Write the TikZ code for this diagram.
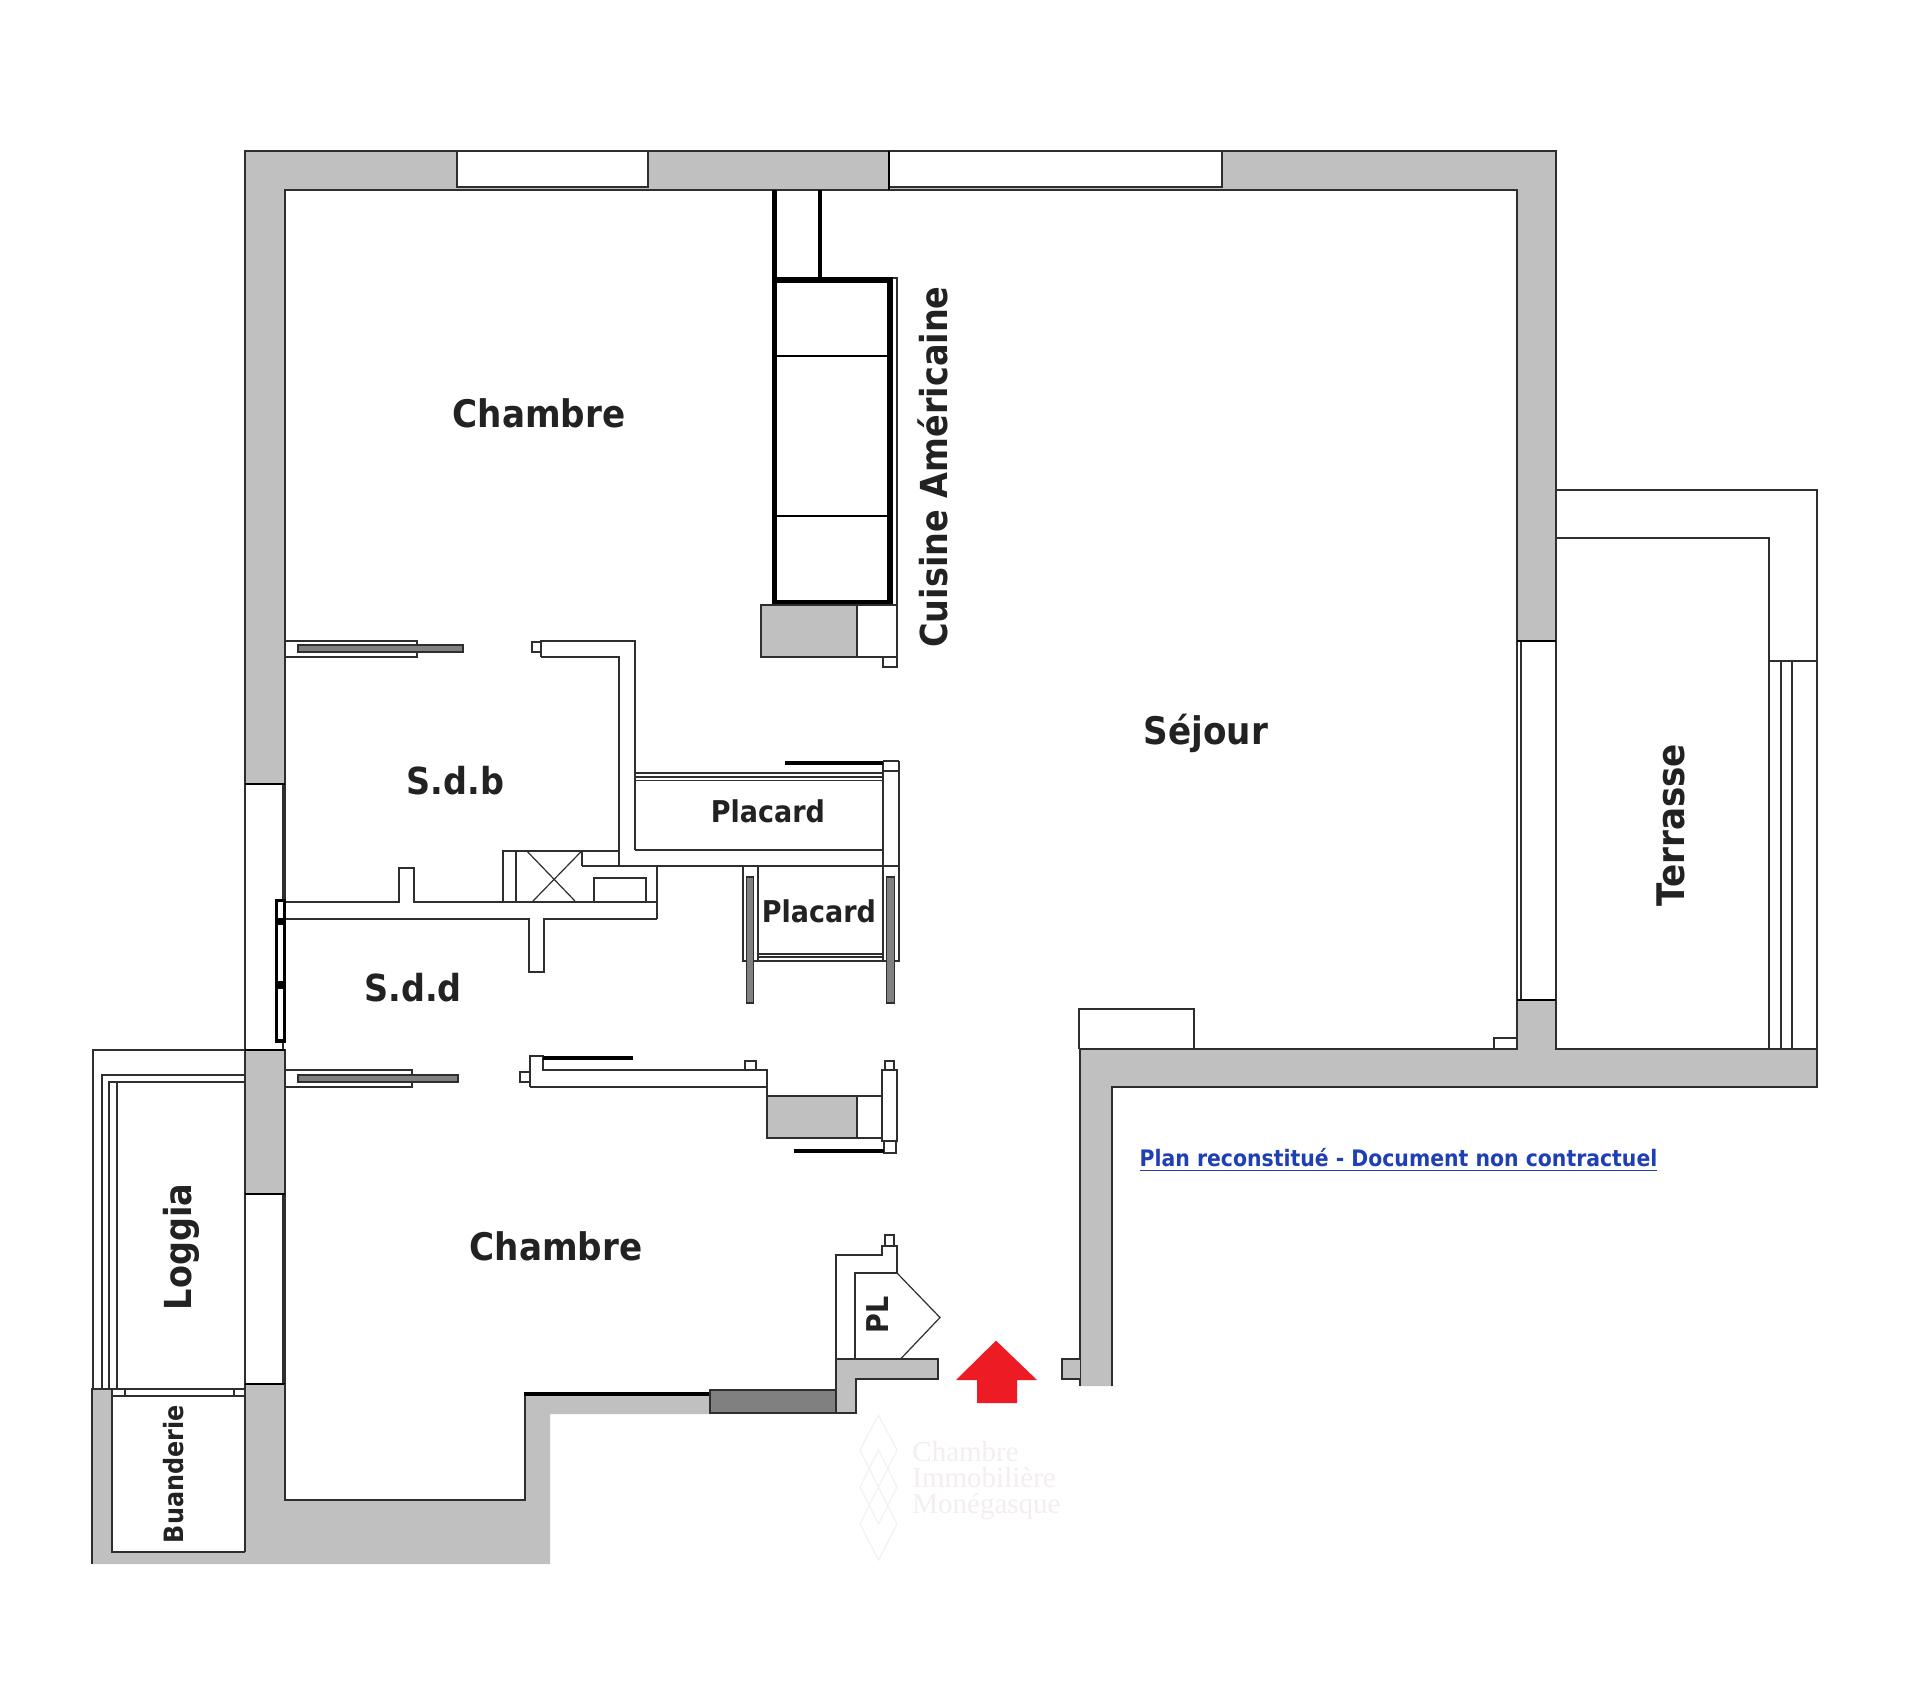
\documentclass[tikz,border=0pt]{standalone}
\usepackage{fontspec}
\setmainfont{DejaVu Sans Condensed}
\newfontfamily\wmfont{Liberation Serif}
\definecolor{wallgray}{HTML}{C0C0C0}
\definecolor{darkwall}{HTML}{808080}
\definecolor{linecol}{HTML}{2E2E2E}
\definecolor{labelcol}{HTML}{222222}
\definecolor{arrowred}{HTML}{ED1C24}
\definecolor{planblue}{HTML}{1F3FB5}
\definecolor{wmcol}{HTML}{F4EEEE}
\tikzset{
  ln/.style={draw=linecol,line width=1pt},
  thn/.style={draw=linecol,line width=0.6pt},
  wall/.style={fill=wallgray,draw=linecol,line width=1pt},
  whitebox/.style={fill=white,draw=linecol,line width=1pt},
  slider/.style={fill=darkwall,draw=linecol,line width=0.6pt},
  frameb/.style={fill=white,draw=black,line width=1.8pt},
  jamb/.style={draw=black,line width=1.4pt},
  room/.style={font=\bfseries\fontsize{19}{20}\selectfont,text=labelcol,inner sep=0pt},
  roomlow/.style={font=\bfseries\fontsize{18.6}{20}\selectfont,text=labelcol,inner sep=0pt},
  roomsm/.style={font=\bfseries\fontsize{15}{16}\selectfont,text=labelcol,inner sep=0pt},
  wm/.style={font=\wmfont\fontsize{14.5}{15}\selectfont,text=wmcol,inner sep=0pt,anchor=base west},
}
\begin{document}
\begin{tikzpicture}[x=0.5pt,y=-0.5pt]
\useasboundingbox (0,0) rectangle (1920,1683);
\fill[white] (0,0) rectangle (1920,1683);
% outer wall, top and upper left
\draw[wall] (245,151) -- (1556,151) -- (1556,641) -- (1517,641) -- (1517,190) -- (285,190) -- (285,784) -- (245,784) -- cycle;
% top windows
\draw[whitebox] (457,151) rectangle (648,187);
\draw[thn] (457,189.5) -- (648,189.5);
\draw[whitebox] (889,151) rectangle (1222,187);
\draw[thn] (889,189.5) -- (1222,189.5);
\draw[jamb] (889,151) -- (889,190);
% left windows and piers
\draw[whitebox] (245,784) rectangle (282.5,1050);
\draw[thn] (285,784) -- (285,900);
\draw[jamb] (245,784) -- (285,784);
\draw[wall] (245,1050) rectangle (285,1194);
\draw[jamb] (245,1050) -- (285,1050);
\draw[whitebox] (245,1194) rectangle (282.5,1384);
\draw[thn] (285,1194) -- (285,1384);
\draw[jamb] (245,1194) -- (285,1194);
% lower left wall mass
\fill[wallgray] (245,1384) -- (285,1384) -- (285,1500) -- (525,1500) -- (525,1396) -- (710,1396) -- (710,1414) -- (550,1414) -- (550,1564) -- (92,1564) -- (92,1388.5) -- (112,1388.5) -- (112,1552) -- (245,1552) -- cycle;
\draw[ln] (245,1552) -- (112,1552) -- (112,1388.5) -- (92,1388.5) -- (92,1564);
\draw[ln] (245,1552) -- (245,1384);
\draw[jamb] (245,1384) -- (285,1384);
\draw[ln] (285,1384) -- (285,1500) -- (525,1500) -- (525,1396);
\fill[black] (524,1392) rectangle (710,1396);
% loggia
\draw[ln] (245,1050) -- (93,1050) -- (93,1388.5);
\draw[ln] (245,1074.5) -- (102,1074.5) -- (102,1388.5);
\draw[ln] (245,1082) -- (109,1082) -- (109,1388.5);
\draw[ln] (117,1082) -- (117,1388.5);
% buanderie window
\draw[whitebox] (112,1388.5) rectangle (245,1396);
\draw[thn] (125,1388.5) -- (125,1396) (234,1388.5) -- (234,1396);
% entry corner of lower wall
\draw[wall,fill=darkwall] (710,1389.5) rectangle (835.5,1413);
\draw[wall] (835.5,1358.5) -- (937.5,1358.5) -- (937.5,1378.5) -- (856,1378.5) -- (856,1413) -- (835.5,1413) -- cycle;
% right wall band
\fill[wallgray] (1079.6,1386) -- (1079.6,1049) -- (1517,1049) -- (1517,1000) -- (1556,1000) -- (1556,1049) -- (1817,1049) -- (1817,1087) -- (1112,1087) -- (1112,1386) -- cycle;
\draw[ln] (1079.6,1386) -- (1079.6,1049) -- (1517,1049) -- (1517,1000) (1556,1000) -- (1556,1049) -- (1817,1049) -- (1817,1087) -- (1112,1087) -- (1112,1386);
\draw[ln,fill=wallgray] (1079.6,1358.5) -- (1061.6,1358.5) -- (1061.6,1378.5) -- (1079.6,1378.5);
\draw[ln] (1079,1049) -- (1079,1009) -- (1194,1009) -- (1194,1049);
\draw[ln] (1494,1049) -- (1494,1037.6) -- (1517,1037.6);
% right window
\draw[whitebox] (1520.7,641) rectangle (1556,1000);
\draw[thn] (1517,641) -- (1517,1000);
\draw[jamb] (1517,641) -- (1556,641) (1517,1000) -- (1556,1000);
% terrace
\draw[ln] (1556,490) -- (1817,490) -- (1817,1049);
\draw[ln] (1556,537.5) -- (1769,537.5) -- (1769,1049);
\draw[ln] (1769,661) -- (1817,661);
\draw[ln] (1780.7,661) -- (1780.7,1049) (1792,661) -- (1792,1049);
% kitchen
\draw[draw=black,line width=2.2pt] (774.5,190) -- (774.5,280) (820,190) -- (820,280);
\draw[whitebox] (890,278) rectangle (897,605);
\draw[draw=black,line width=2.6pt,fill=white] (774.5,280) rectangle (890,602.5);
\draw[draw=black,line width=1.1pt] (774.5,356) -- (890,356) (774.5,516) -- (890,516);
\draw[wall] (761,605) rectangle (857,657);
\draw[whitebox] (857,605) rectangle (897,657);
\draw[whitebox] (883,657) rectangle (897,667);
% upper partition
\draw[ln] (285,641) -- (417,641) -- (417,657) -- (285,657);
\draw[slider] (298,645) rectangle (463,652);
\draw[whitebox] (532,642) rectangle (541,652);
\draw[ln] (541,657) -- (541,641) -- (635,641) -- (635,850) (541,657) -- (619,657) -- (619,866);
% placard 1
\draw[ln] (635,773) -- (883,773) (635,850) -- (883,850);
\draw[thn] (635,777) -- (883,777) (635,780.5) -- (883,780.5);
\draw[ln] (883,761) -- (883,866) (898.5,761) -- (898.5,866) (883,761) -- (898.5,761) (883,771) -- (898.5,771);
\fill[black] (785,761) rectangle (883,765);
\draw[ln] (582,866) -- (898.5,866);
% service block
\draw[ln] (619,851) -- (503,851) -- (503,902) (516,851) -- (516,902);
\draw[ln] (582,851) -- (582,866) (657,866) -- (657,919);
\draw[thn] (527.5,851.7) -- (575,901) (581,851.7) -- (533,901);
\draw[ln] (594,902) -- (594,878) -- (645.5,878) -- (645.5,902);
% horizontal partition
\draw[ln] (285,902) -- (398.5,902) -- (398.5,868) -- (414,868) -- (414,902) -- (657,902);
\draw[ln] (285,919) -- (529,919) -- (529,972) -- (544,972) -- (544,919) -- (657,919);
% left window frame
\draw[frameb] (276.5,900.5) rectangle (284.5,920);
\draw[frameb] (276.5,923) rectangle (284.5,983);
\draw[frameb] (276.5,987) rectangle (284.5,1041);
% placard 2
\draw[ln] (743,866) -- (743,961) -- (898.5,961) -- (898.5,866);
\draw[ln] (758,866) -- (758,961) (883,866) -- (883,961);
\draw[thn] (758,954) -- (883,954) (758,957) -- (883,957);
\draw[slider] (746.5,877) rectangle (753.5,1003);
\draw[slider] (886.5,877) rectangle (894.5,1003);
% lower partition
\draw[ln] (285,1070) -- (412,1070) -- (412,1086.5) -- (285,1086.5);
\draw[slider] (298,1075) rectangle (458,1082);
\draw[whitebox] (520.4,1072) rectangle (530,1082);
\draw[whitebox] (745,1060.7) rectangle (756,1070);
\draw[ln] (530,1086.5) -- (530,1056) -- (543,1056) -- (543,1070) -- (767,1070) -- (767,1096);
\draw[ln] (530,1086.5) -- (767,1086.5);
\fill[black] (543,1055.5) rectangle (632.6,1059.6);
\draw[wall] (767,1096) rectangle (857,1138);
\draw[whitebox] (857,1096) rectangle (881.6,1138);
\draw[whitebox] (884.5,1060.7) rectangle (894,1070);
\draw[whitebox] (881.6,1070) rectangle (897,1141);
\draw[whitebox] (883.7,1141) rectangle (896,1152.6);
\fill[black] (793.5,1149) rectangle (883.7,1152.6);
% PL cupboard
\draw[whitebox] (884.5,1235) rectangle (894,1245.6);
\draw[ln] (835.5,1358.5) -- (835.5,1255) -- (881.6,1255) -- (881.6,1245.6) -- (897,1245.6) -- (897,1273) -- (855,1273) -- (855,1358.5);
\draw[thn] (897,1273) -- (940,1317.5) -- (901,1358.5);
% entry arrow
\fill[arrowred] (996,1340.6) -- (1037,1380) -- (1017,1380) -- (1017,1403) -- (977,1403) -- (977,1380) -- (956,1380) -- cycle;
% watermark
\draw[wmcol,line width=0.5pt] (878.5,1415) -- (897,1450) -- (878.5,1487) -- (860,1450) -- cycle
 (878.5,1450) -- (897,1487) -- (878.5,1524) -- (860,1487) -- cycle
 (878.5,1487) -- (897,1524) -- (878.5,1560) -- (860,1524) -- cycle;
\node[wm] (wm1) at (912,1461) {Chambre};
\node[wm] (wm2) at (912,1487) {Immobilière};
\node[wm] (wm3) at (912,1513.5) {Monégasque};
% labels
\node[room] (ch1) at (539,413) {Chambre};
\node[room] (ch2) at (556,1246) {Chambre};
\node[room] (sej) at (1206,733) {Séjour};
\node[roomlow] (sdb) at (455.5,781) {S.d.b};
\node[roomlow] (sdd) at (413,988) {S.d.d};
\node[roomsm] (pl1) at (768,811) {Placard};
\node[roomsm] (pl2) at (819,911) {Placard};
\node[roomlow,rotate=90] (cui) at (933,467) {Cuisine Américaine};
\node[room,rotate=90] (ter) at (1671,825) {Terrasse};
\node[roomlow,rotate=90] (log) at (181,1247) {Loggia};
\node[font=\bfseries\fontsize{13.3}{14}\selectfont,text=labelcol,inner sep=0pt,rotate=90] (bua) at (174,1474) {Buanderie};
\node[font=\bfseries\fontsize{15}{15}\selectfont,text=labelcol,inner sep=0pt,rotate=90] (pl) at (878,1315) {PL};
\node[font=\bfseries\fontsize{11.35}{13}\selectfont,text=planblue,inner sep=0pt] (plan) at (1398.5,1160) {\underline{Plan reconstitué - Document non contractuel}};
\end{tikzpicture}
\end{document}
